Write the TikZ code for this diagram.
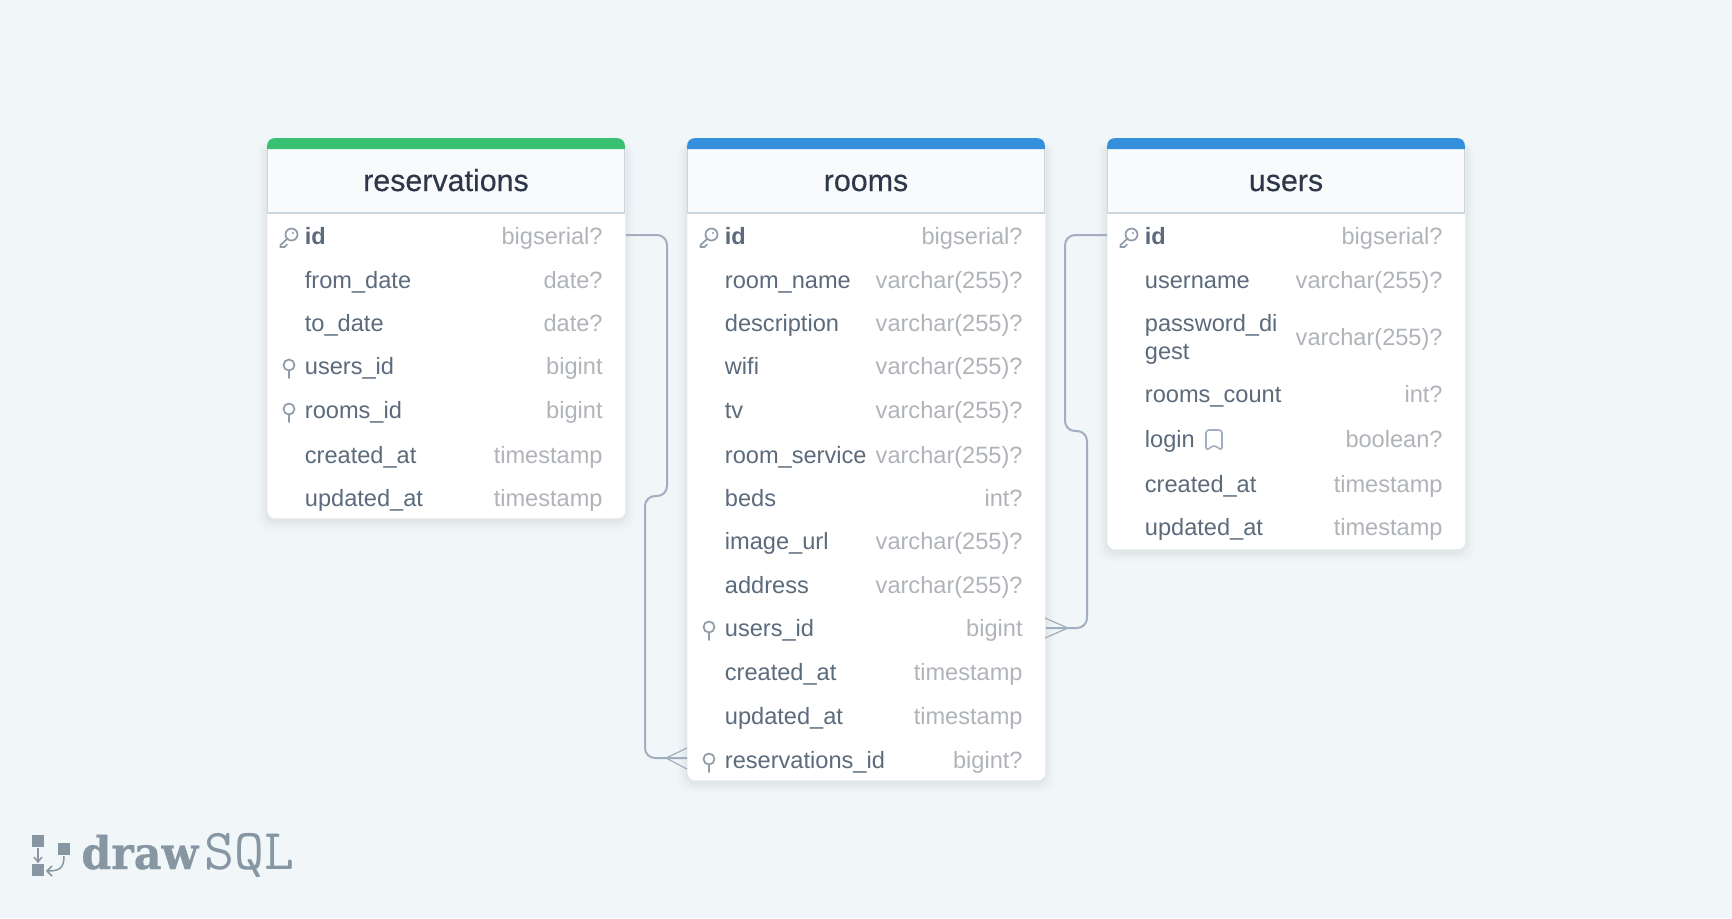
\documentclass[tikz,border=0pt]{standalone}
\usepackage{fontspec}
\setmainfont{Liberation Sans}
\newfontfamily\logobold{DejaVu Serif}
\usetikzlibrary{arrows.meta}
\definecolor{pagebg}{HTML}{F1F6F9}
\definecolor{hdrbg}{HTML}{F8FAFC}
\definecolor{hdrline}{HTML}{CBD5E0}
\definecolor{barblue}{HTML}{3490DC}
\definecolor{bargreen}{HTML}{38C172}
\definecolor{titlecol}{HTML}{2D3748}
\definecolor{namecol}{HTML}{5B6B7C}
\definecolor{typecol}{HTML}{B0B4B9}
\definecolor{linkcol}{HTML}{A0AEC0}
\definecolor{iconcol}{HTML}{8F9BA8}
\definecolor{logocol}{HTML}{8696A3}
\tikzset{
 x=0.5pt,y=-0.5pt,
 tablebody/.style={rectangle,rounded corners=4pt,fill=white,inner sep=0pt,anchor=north west,minimum width=179pt},
 fieldname/.style={anchor=base west,inner sep=0pt,text=namecol,font=\fontsize{11.8}{13}\selectfont},
 fieldkey/.style={fieldname,font=\fontsize{11.8}{13}\selectfont\bfseries},
 fieldtype/.style={anchor=base east,inner sep=0pt,text=typecol,font=\fontsize{11.8}{13}\selectfont},
 tabletitle/.style={anchor=base,inner sep=0pt,text=titlecol,font=\fontsize{15.2}{16}\selectfont\addfontfeature{FakeBold=0.25}},
 link/.style={draw=linkcol,line width=1pt,rounded corners=5pt},
 crow/.style={draw=linkcol,line width=0.6pt},
 iconline/.style={draw=iconcol,line width=0.85pt,line cap=round},
}
% #1 table name, #2 left, #3 top, #4 bottom, #5 bar colour, #6 title
\newcommand{\dbtable}[6]{%
  \foreach \k/\o in {10/0.007,8/0.009,6/0.012,4/0.015,2/0.018}{
    \fill[black,opacity=\o,rounded corners=6pt] (#2-\k,#3+4) rectangle (#2+358+\k,#4+3+\k);
  }
  \node[tablebody,minimum height={(#4-#3)*0.5pt}] (#1) at (#2,#3) {};
  \fill[hdrbg] (#2,#3+10) rectangle (#2+358,#3+75);
  \draw[hdrline,line width=0.7pt] (#2+0.7,#3+10) -- (#2+0.7,#3+75) -- (#2+357.3,#3+75) -- (#2+357.3,#3+10);
  \fill[#5] (#2,#3+11) -- (#2,#3+9) .. controls (#2,#3+3) and (#2+3,#3) .. (#2+9,#3) -- (#2+349,#3) .. controls (#2+355,#3) and (#2+358,#3+3) .. (#2+358,#3+9) -- (#2+358,#3+11) -- cycle;
  \node[tabletitle] (#1title) at (#2+179,#3+53) {#6};
}
% #1 name, #2 table left, #3 baseline, #4 text, #5 type
\newcommand{\dbrow}[5]{%
  \node[fieldname] (#1) at (#2+37.5,#3) {#4};
  \node[fieldtype] (#1type) at (#2+336,#3) {#5};
}
\newcommand{\dbkey}[3]{%
  \node[fieldkey] (#1) at (#2+37.5,#3) {id};
  \node[fieldtype] (#1type) at (#2+336,#3) {bigserial?};
  \draw[iconline] (#2+24.5,#3-9.5) circle (6);
  \draw[iconline] (#2+20,#3-5) -- (#2+13.5,#3+1) -- (#2+13.5,#3+3) -- (#2+17.5,#3+3) -- (#2+20,#3+0.5);
  \fill[iconcol] (#2+26,#3-11) circle (1.2);
}
\newcommand{\dbpin}[2]{%
  \draw[iconline] (#1+22,#2-9) circle (5.5);
  \draw[iconline] (#1+22,#2-3.5) -- (#1+22,#2+4);
}
\begin{document}
\begin{tikzpicture}
\useasboundingbox (0,0) rectangle (1732,918);
\fill[pagebg] (0,0) rectangle (1732,918);

% reservations
\dbtable{restbl}{267}{138}{518}{bargreen}{reservations}
\dbkey{resid}{267}{244}
\dbrow{resfrom}{267}{288}{from\_date}{date?}
\dbrow{resto}{267}{331}{to\_date}{date?}
\dbrow{resusers}{267}{374}{users\_id}{bigint}\dbpin{267}{374}
\dbrow{resrooms}{267}{418}{rooms\_id}{bigint}\dbpin{267}{418}
\dbrow{rescreated}{267}{463}{created\_at}{timestamp}
\dbrow{resupdated}{267}{506}{updated\_at}{timestamp}

% rooms
\dbtable{roomtbl}{687}{138}{780}{barblue}{rooms}
\dbkey{roomid}{687}{244}
\dbrow{roomname}{687}{288}{room\_name}{varchar(255)?}
\dbrow{roomdesc}{687}{331}{description}{varchar(255)?}
\dbrow{roomwifi}{687}{374}{wifi}{varchar(255)?}
\dbrow{roomtv}{687}{418}{tv}{varchar(255)?}
\dbrow{roomserv}{687}{463}{room\_service}{varchar(255)?}
\dbrow{roombeds}{687}{506}{beds}{int?}
\dbrow{roomimg}{687}{549}{image\_url}{varchar(255)?}
\dbrow{roomaddr}{687}{593}{address}{varchar(255)?}
\dbrow{roomusers}{687}{636}{users\_id}{bigint}\dbpin{687}{636}
\dbrow{roomcreated}{687}{680}{created\_at}{timestamp}
\dbrow{roomupdated}{687}{724}{updated\_at}{timestamp}
\dbrow{roomres}{687}{768}{reservations\_id}{bigint?}\dbpin{687}{768}

% users
\dbtable{usertbl}{1107}{138}{549}{barblue}{users}
\dbkey{userid}{1107}{244}
\dbrow{username}{1107}{288}{username}{varchar(255)?}
\dbrow{userpass}{1107}{331}{password\_di}{}
\node[fieldname] (userpassb) at (1144.5,359) {gest};
\node[fieldtype] (userpasstype) at (1443,345) {varchar(255)?};
\dbrow{usercount}{1107}{402}{rooms\_count}{int?}
\dbrow{userlogin}{1107}{447}{login}{boolean?}
\dbrow{usercreated}{1107}{492}{created\_at}{timestamp}
\dbrow{userupdated}{1107}{535}{updated\_at}{timestamp}
\draw[draw=linkcol,line width=0.8pt,line join=round,rounded corners=1.5pt] (1206,450.5) -- (1206,430) -- (1222,430) -- (1222,450.5) -- (1214,445) -- cycle;

% connectors
\coordinate (reslinkstart) at (restbl.east |- 0,235);
\coordinate (roomresend) at (roomtbl.west |- 0,758);
\coordinate (userlinkstart) at (usertbl.west |- 0,235);
\coordinate (roomusersend) at (roomtbl.east |- 0,628);
\draw[link] (reslinkstart) -- (667,235) -- (667,496) -- (645,496) -- (645,758) -- (roomresend);
\draw[link] (userlinkstart) -- (1065,235) -- (1065,431) -- (1087,431) -- (1087,628) -- (roomusersend);
\draw[crow] (roomresend) ++(-21,0) coordinate (resapex) -- (687,748);
\draw[crow] (resapex) -- (687,769);
\draw[crow] (roomusersend) ++(22,0) coordinate (userapex) -- (1045,618);
\draw[crow] (userapex) -- (1045,638);

% logo
\fill[logocol] (32,835) rectangle (44,847);
\fill[logocol] (58,843) rectangle (70,855);
\fill[logocol] (32,864) rectangle (44,876);
\draw[logocol,line width=0.75pt] (38,848) -- (38,861);
\draw[logocol,line width=0.75pt] (34,857) -- (38,862) -- (42,857);
\draw[logocol,line width=0.75pt] (64,856) .. controls (64,868) and (60,871) .. (47,871);
\draw[logocol,line width=0.75pt] (52,866) -- (47,871) -- (52,876);
\node[anchor=base west,inner sep=0pt,text=logocol,font=\fontsize{22.5}{26}\logobold\bfseries\addfontfeature{FakeBold=0.6}] (logodraw) at (81,869) {\scalebox{0.95}[1]{draw}};
\node[anchor=base west,inner sep=0pt,text=logocol,font=\fontsize{29}{30}\ttfamily] (logosql) at (204,869) {SQL};
\end{tikzpicture}
\end{document}
